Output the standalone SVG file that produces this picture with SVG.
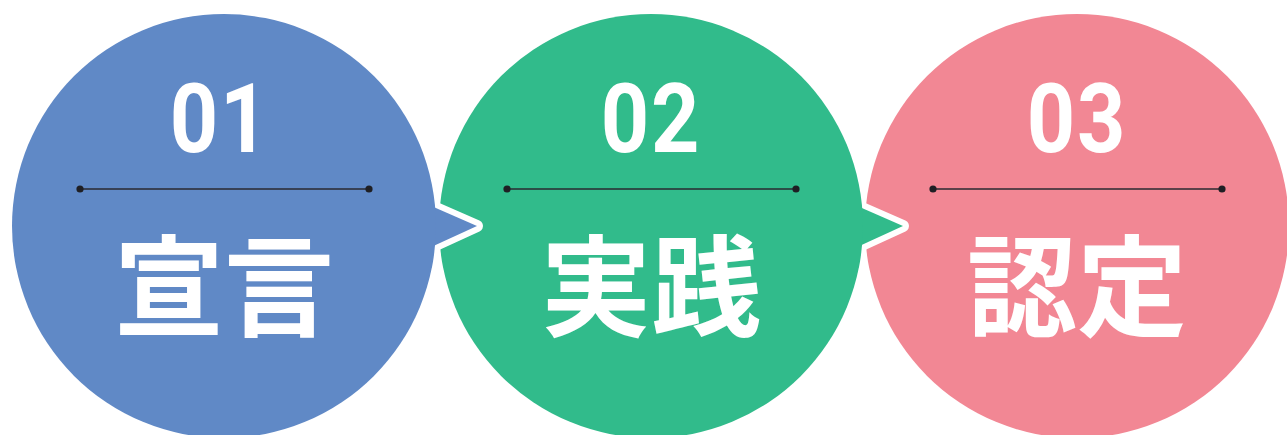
<svg xmlns="http://www.w3.org/2000/svg" width="1287" height="435" viewBox="0 0 1287 435">
<style>
.num{font-family:Roboto,"Liberation Sans",sans-serif;font-weight:700;font-size:97px;fill:#fff;text-anchor:middle;letter-spacing:2px}
.lbl{font-family:"Noto Sans CJK JP","Noto Sans CJK SC",sans-serif;font-weight:700;font-size:110px;fill:#fff;text-anchor:middle}
.sep{stroke:#2a2a30;stroke-width:1.6}
.dot{fill:#1f1f24}
.halo{fill:#fff;stroke:#fff;stroke-width:12;stroke-linejoin:round}
</style>
<rect width="1287" height="435" fill="#fff"/>
<g id="node3">
<circle cx="1077" cy="226" r="212" fill="#f28794"/>
<line class="sep" x1="933" y1="189" x2="1222" y2="189"/>
<circle class="dot" cx="933" cy="189" r="3.6"/>
<circle class="dot" cx="1222" cy="189" r="3.6"/>
<text class="num" transform="translate(1077,152) scale(0.87,1)">03</text>
<text class="lbl" x="1077" y="328">認定</text>
</g>
<g id="node2">
<polygon class="halo" points="855,205 903,226 855,248"/>
<polygon points="855,205 903,226 855,248" fill="#31bb8b"/>
<circle cx="651" cy="226" r="212" fill="#31bb8b"/>
<line class="sep" x1="507" y1="189" x2="796" y2="189"/>
<circle class="dot" cx="507" cy="189" r="3.6"/>
<circle class="dot" cx="796" cy="189" r="3.6"/>
<text class="num" transform="translate(651,152) scale(0.87,1)">02</text>
<text class="lbl" x="651" y="328">実践</text>
</g>
<g id="node1">
<polygon class="halo" points="429,205 477,226 429,248"/>
<polygon points="429,205 477,226 429,248" fill="#6089c6"/>
<circle cx="224" cy="226" r="212" fill="#6089c6"/>
<line class="sep" x1="80" y1="189" x2="369" y2="189"/>
<circle class="dot" cx="80" cy="189" r="3.6"/>
<circle class="dot" cx="369" cy="189" r="3.6"/>
<text class="num" transform="translate(220,152) scale(0.87,1)">01</text>
<text class="lbl" x="224" y="328">宣言</text>
</g>
<g id="connectors"/>
</svg>
